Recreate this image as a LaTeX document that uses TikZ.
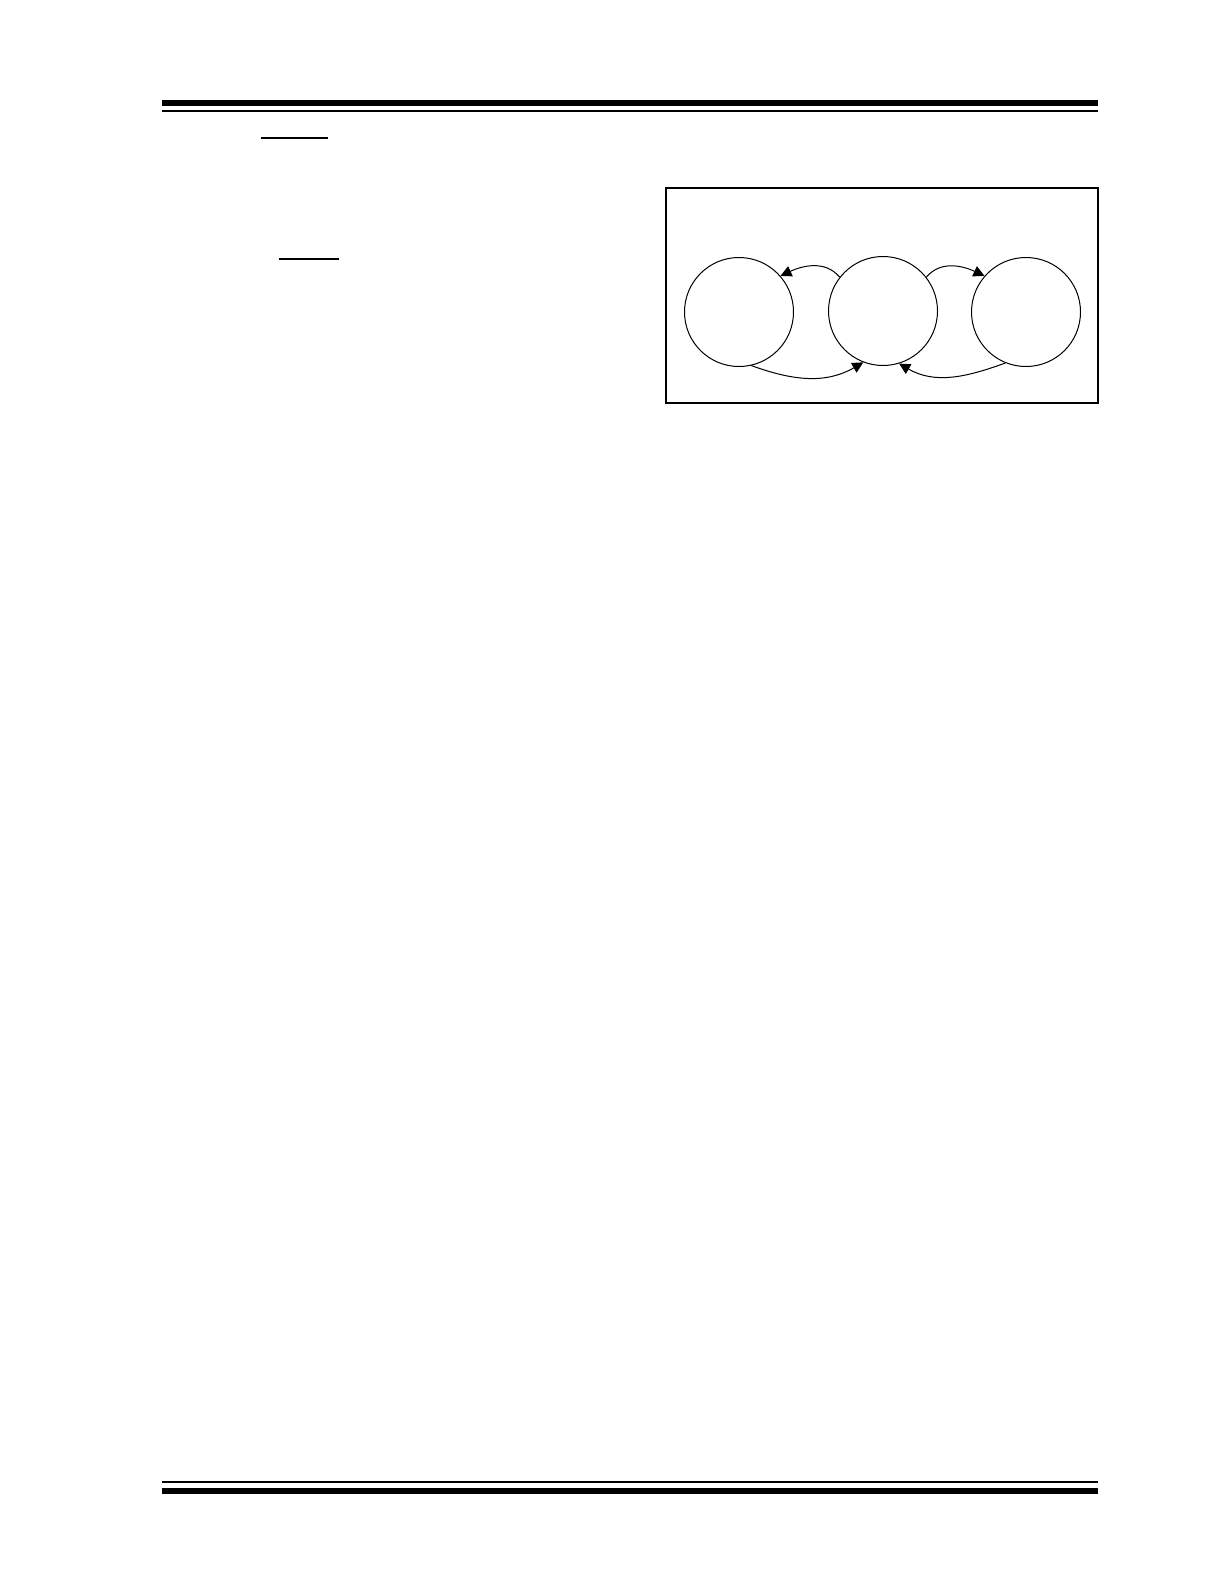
\documentclass[tikz,border=0pt]{standalone}
\usetikzlibrary{arrows.meta}

\tikzset{
  state/.style={circle, draw, line width=0.5pt, minimum size=54.5pt, inner sep=0pt},
  trans/.style={line width=0.5pt, -{Triangle[length=5.5pt, width=5.5pt]}},
}

\begin{document}
\begin{tikzpicture}[x=0.5pt, y=-0.5pt]
  \useasboundingbox (0,0) rectangle (1224,1584);

  % page rules
  \draw [line width=3pt] (162,103) -- (1098,103);
  \draw [line width=1pt] (162,111) -- (1098,111);
  \draw [line width=1pt] (162,1482) -- (1098,1482);
  \draw [line width=3pt] (162,1491) -- (1098,1491);
  \draw [line width=0.6pt] (261,138) -- (328,138);
  \draw [line width=0.6pt] (279,259) -- (339,259);

  % frame and states
  \draw [line width=0.8pt] (666,188) rectangle (1098,403);
  \node [state] (s1) at (739,312) {};
  \node [state] (s2) at (883,311) {};
  \node [state] (s3) at (1026,312) {};

  \draw [trans] (s2.142) to [out=130, in=25] (s1.41);
  \draw [trans] (s2.38) to [out=50, in=155] (s3.139);
  \draw [trans] (s1.283) to [out=-20, in=-150] (s2.249);
  \draw [trans] (s3.248) to [out=-160, in=-30] (s2.287);
\end{tikzpicture}
\end{document}
